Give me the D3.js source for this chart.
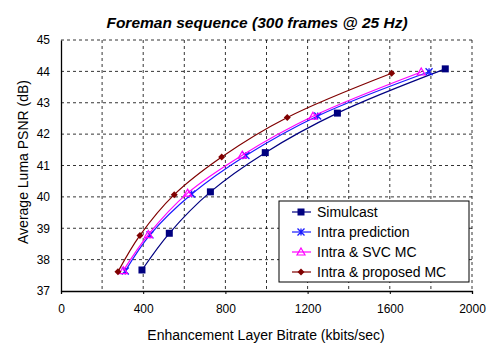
<!DOCTYPE html>
<html>
<head>
<meta charset="utf-8">
<script src="https://cdn.jsdelivr.net/npm/d3@7"></script>
<style>
  body { margin: 0; background: white; }
  text { font-family: Arial, "Liberation Sans", sans-serif; }
</style>
</head>
<body>
<div id="vis"></div>
<script>
// data
let seriesNames = ["Simulcast", "Intra prediction", "Intra & SVC MC", "Intra & proposed MC"];
let simulcastX = [394, 527, 727, 994, 1345, 1870];
let simulcastY = [37.67, 38.84, 40.16, 41.41, 42.67, 44.08];
let intraX = [313, 433, 636, 900, 1249, 1791];
let intraY = [37.64, 38.79, 40.09, 41.32, 42.58, 43.99];
let svcX = [303, 425, 616, 882, 1226, 1753];
let svcY = [37.65, 38.80, 40.12, 41.33, 42.57, 43.98];
let propX = [277, 384, 551, 782, 1101, 1609];
let propY = [37.61, 38.77, 40.07, 41.27, 42.53, 43.94];
let xLabelTicks = [0, 400, 800, 1200, 1600, 2000];
let xGridTicks = [200, 400, 600, 800, 1000, 1200, 1400, 1600, 1800, 2000];
let yTicks = [37, 38, 39, 40, 41, 42, 43, 44, 45];

let W = 487, H = 345;
let margin = { top: 40, left: 61, right: 15, bottom: 54 },
  width = W - margin.left - margin.right,
  height = H - margin.top - margin.bottom;

let svg = d3.select('#vis')
  .append('svg')
  .attr('width', W)
  .attr('height', H)
  .style('background-color', 'white');

let g = svg.append('g')
  .attr('transform', `translate(${margin.left},${margin.top})`);

let x = d3.scaleLinear().domain([0, 2000]).range([0, width]);
let y = d3.scaleLinear().domain([37, 45]).range([height, 0]);

// gridlines
g.append('g').selectAll('line')
  .data(xGridTicks)
  .join('line')
  .attr('x1', d => x(d)).attr('x2', d => x(d))
  .attr('y1', 0).attr('y2', height)
  .attr('stroke', '#000').attr('stroke-width', 0.8)
  .attr('stroke-dasharray', '3,3');

g.append('g').selectAll('line')
  .data(yTicks.slice(1))
  .join('line')
  .attr('x1', 0).attr('x2', width)
  .attr('y1', d => y(d)).attr('y2', d => y(d))
  .attr('stroke', '#000').attr('stroke-width', 0.8)
  .attr('stroke-dasharray', '3,3');

// axes
g.append('g')
  .attr('transform', `translate(0,${height})`)
  .call(d3.axisBottom(x).tickValues(xLabelTicks).tickSize(3).tickPadding(10).tickFormat(d3.format('d')))
  .call(a => a.select('.domain').attr('stroke-width', 1.3))
  .call(a => a.selectAll('text').attr('font-size', 12).attr('fill', '#000'));

g.append('g')
  .call(d3.axisLeft(y).tickValues(yTicks).tickSize(0).tickPadding(11).tickFormat(d3.format('d')))
  .call(a => a.select('.domain').attr('stroke-width', 1.3))
  .call(a => a.selectAll('text').attr('font-size', 12).attr('fill', '#000'));

// series
let series = [
  { name: seriesNames[0], xs: simulcastX, ys: simulcastY, color: '#000080', marker: 'square' },
  { name: seriesNames[1], xs: intraX, ys: intraY, color: '#1a1aff', marker: 'star' },
  { name: seriesNames[2], xs: svcX, ys: svcY, color: '#ff00ff', marker: 'triangle' },
  { name: seriesNames[3], xs: propX, ys: propY, color: '#800000', marker: 'dot' }
];

let line = d3.line()
  .x(d => x(d[0]))
  .y(d => y(d[1]))
  .curve(d3.curveCatmullRom.alpha(0.5));

function drawMarker(sel, type, color) {
  if (type === 'square') {
    sel.append('rect').attr('x', -3.5).attr('y', -3.5).attr('width', 7).attr('height', 7)
      .attr('fill', color);
  } else if (type === 'star') {
    sel.append('path').attr('d', 'M-3.5,-3.5L3.5,3.5M-3.5,3.5L3.5,-3.5M0,-3.5L0,3.5')
      .attr('stroke', color).attr('stroke-width', 1.3).attr('fill', 'none');
  } else if (type === 'triangle') {
    sel.append('path').attr('d', 'M0,-4L4,3L-4,3Z')
      .attr('stroke', color).attr('stroke-width', 1.2).attr('fill', 'none');
  } else {
    sel.append('path').attr('d', 'M0,-3.5L3.5,0L0,3.5L-3.5,0Z')
      .attr('fill', color);
  }
}

series.forEach(s => {
  let pts = s.xs.map((v, i) => [v, s.ys[i]]);
  g.append('path')
    .datum(pts)
    .attr('d', line)
    .attr('fill', 'none')
    .attr('stroke', s.color)
    .attr('stroke-width', 1.2);
  g.append('g').selectAll('g')
    .data(pts)
    .join('g')
    .attr('transform', d => `translate(${x(d[0])},${y(d[1])})`)
    .each(function () { drawMarker(d3.select(this), s.marker, s.color); });
});

// legend
let lg = svg.append('g').attr('transform', 'translate(279,201)');
lg.append('rect').attr('width', 190).attr('height', 81)
  .attr('fill', 'white').attr('stroke', '#000').attr('stroke-width', 1);
series.forEach((s, i) => {
  let row = lg.append('g').attr('transform', `translate(0,${11 + i * 20})`);
  row.append('line').attr('x1', 13).attr('x2', 32).attr('y1', 0).attr('y2', 0)
    .attr('stroke', s.color).attr('stroke-width', 1.2);
  drawMarker(row.append('g').attr('transform', 'translate(22,0)'), s.marker, s.color);
  row.append('text').attr('x', 38).attr('y', 5).attr('font-size', 14).text(s.name);
});

// titles
svg.append('text')
  .attr('x', 257).attr('y', 28)
  .attr('text-anchor', 'middle')
  .attr('font-size', 15.5).attr('font-weight', 'bold').attr('font-style', 'italic')
  .text('Foreman sequence (300 frames @ 25 Hz)');

svg.append('text')
  .attr('x', 266).attr('y', 340)
  .attr('text-anchor', 'middle')
  .attr('font-size', 14)
  .text('Enhancement Layer Bitrate (kbits/sec)');

svg.append('text')
  .attr('transform', `translate(28,162) rotate(-90)`)
  .attr('text-anchor', 'middle')
  .attr('font-size', 14)
  .text('Average Luma PSNR (dB)');
</script>
</body>
</html>
